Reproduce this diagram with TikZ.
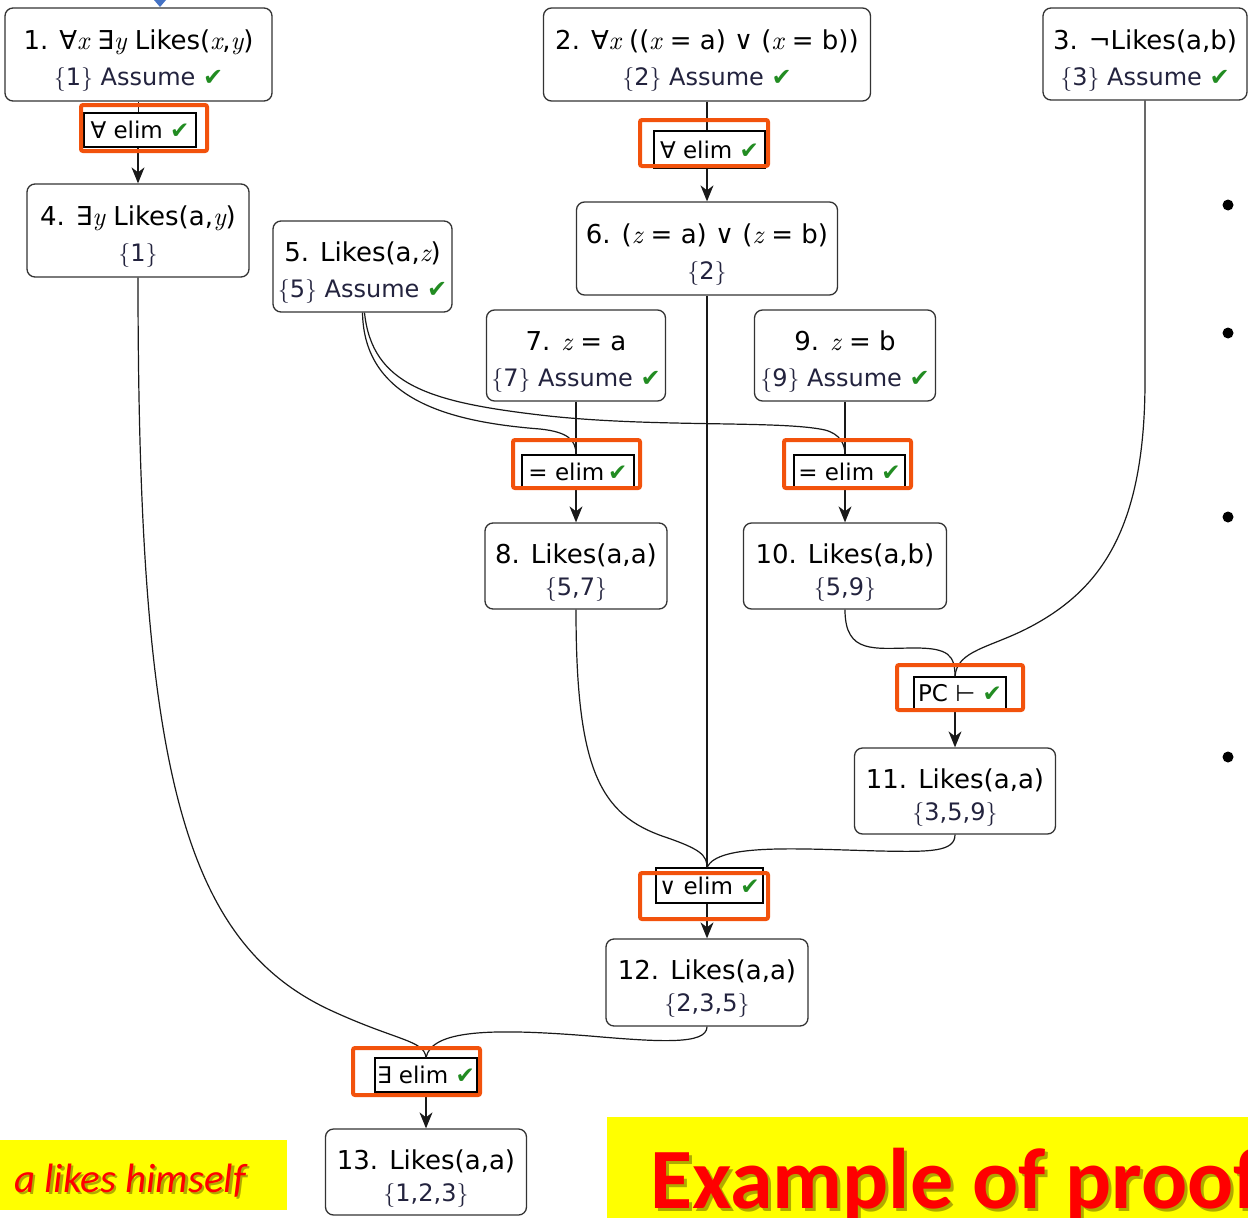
\documentclass[tikz,border=0pt]{standalone}
\usepackage{fontspec}
\setmainfont{DejaVu Sans}
\newfontfamily\lmr{lmroman10}[Extension=.otf, UprightFont=*-regular, ItalicFont=*-italic]
\newfontfamily\calib{Carlito}
\usetikzlibrary{arrows.meta}

\definecolor{okgreen}{RGB}{34,140,34}
\definecolor{rulered}{RGB}{242,82,12}
\definecolor{depblue}{RGB}{35,35,62}
\definecolor{banner}{RGB}{255,255,0}
\definecolor{bannertext}{RGB}{255,0,0}
\definecolor{bannershade}{RGB}{110,100,0}
\definecolor{tipblue}{RGB}{68,114,196}

% variables in serif italic, dependency sets, green tick
\newcommand\pvar[1]{{\lmr\itshape #1}}
\newcommand\deps[1]{{\lmr\{}#1{\lmr\}}}
\newcommand\chk{{\color{okgreen}✔}}
% two-line statement: formula, then dependencies / justification
\newcommand\stm[2]{\rule{0pt}{32pt}#1\\{\fontsize{24}{36}\selectfont\color{depblue}#2}}
\newcommand\stmc[2]{\rule{0pt}{32pt}#1\\[-4pt]{\fontsize{24}{36}\selectfont\color{depblue}#2}}

\tikzset{
  stmt/.style={draw=black!80, line width=1.3pt, rounded corners=8pt, fill=white,
    align=center, inner sep=0pt, font=\fontsize{26}{36}\selectfont},
  rulebox/.style={draw=black, line width=1.1pt, fill=white, inner sep=0pt,
    font=\fontsize{23}{26}\selectfont},
  frame/.style={draw=rulered, line width=4pt, rounded corners=2pt, inner sep=0pt},
  link/.style={draw=black!90, line width=1.2pt},
  arr/.style={link, -{Stealth[length=16pt,width=13pt,inset=5pt]}},
}

\begin{document}
\begin{tikzpicture}[x=1pt,y=-1pt]
\useasboundingbox (0,0) rectangle (1248,1218);

% small arrow tip entering from above
\fill[tipblue] (154,0) -- (166,0) -- (160,7) -- cycle;

% proof lines
\node[stmt, minimum width=267pt, minimum height=93pt] (n1) at (138.5,54.5)
  {\stm{1. ∀\pvar{x} ∃\pvar{y} Likes(\pvar{x},\pvar{y})}{\deps{1} Assume \chk}};
\node[stmt, minimum width=327pt, minimum height=93pt] (n2) at (707,54.5)
  {\stm{2. ∀\pvar{x} ((\pvar{x} = a) ∨ (\pvar{x} = b))}{\deps{2} Assume \chk}};
\node[stmt, minimum width=204pt, minimum height=92pt] (n3) at (1145,54)
  {\stm{3. ¬Likes(a,b)}{\deps{3} Assume \chk}};
\node[stmt, minimum width=222pt, minimum height=93pt] (n4) at (138,230.5)
  {\stm{4. ∃\pvar{y} Likes(a,\pvar{y})}{\deps{1}}};
\node[stmt, minimum width=179pt, minimum height=91pt] (n5) at (362.5,266.5)
  {\stm{5. Likes(a,\pvar{z})}{\deps{5} Assume \chk}};
\node[stmt, minimum width=261pt, minimum height=93pt] (n6) at (707,248.5)
  {\stm{6. (\pvar{z} = a) ∨ (\pvar{z} = b)}{\deps{2}}};
\node[stmt, minimum width=179pt, minimum height=91pt] (n7) at (576,355.5)
  {\stm{7. \pvar{z} = a}{\deps{7} Assume \chk}};
\node[stmt, minimum width=181pt, minimum height=91pt] (n9) at (845,355.5)
  {\stm{9. \pvar{z} = b}{\deps{9} Assume \chk}};
\node[stmt, minimum width=182pt, minimum height=86pt] (n8) at (576,566)
  {\stmc{8. Likes(a,a)}{\deps{5,7}}};
\node[stmt, minimum width=203pt, minimum height=86pt] (n10) at (845,566)
  {\stmc{10. Likes(a,b)}{\deps{5,9}}};
\node[stmt, minimum width=201pt, minimum height=86pt] (n11) at (955,791)
  {\stmc{11. Likes(a,a)}{\deps{3,5,9}}};
\node[stmt, minimum width=202pt, minimum height=87pt] (n12) at (707,982.5)
  {\stmc{12. Likes(a,a)}{\deps{2,3,5}}};
\node[stmt, minimum width=201pt, minimum height=86pt] (n13) at (426,1172)
  {\stmc{13. Likes(a,a)}{\deps{1,2,3}}};

% inference rules
\node[rulebox, minimum width=112pt, minimum height=34pt] (r1) at (140,130) {∀ elim \chk};
\node[rulebox, minimum width=111pt, minimum height=37pt] (r2) at (709.5,149.5) {∀ elim \chk};
\node[rulebox, minimum width=112pt, minimum height=33pt] (r3) at (578,471.5) {= elim\,\chk};
\node[rulebox, minimum width=111pt, minimum height=33pt] (r4) at (849.5,471.5) {= elim \chk};
\node[rulebox, minimum width=92pt, minimum height=33pt] (r5) at (960,693.5) {PC ⊢ \chk};
\node[rulebox, minimum width=107pt, minimum height=35pt] (r6) at (709.5,885.5) {∨ elim \chk};
\node[rulebox, minimum width=102pt, minimum height=34pt] (r7) at (426,1075) {∃ elim \chk};

% premises into rules
\draw[link] (n1.south) -- (n1.south |- r1.north);
\draw[link] (n2.south) -- (n2.south |- r2.north);
\draw[link] (n7.south) -- (n7.south |- r3.north);
\draw[link] (n9.south) -- (n9.south |- r4.north);
\draw[link] (n5.south) .. controls (364,400) and (450,422) .. (540,429)
  .. controls (568,432) and (576,440) .. (r3.north -| n8.north);
\draw[link] ([xshift=2pt]n5.south) .. controls (372,385) and (430,402) .. (540,415)
  .. controls (650,428) and (780,420) .. (825,430)
  .. controls (840,434) and (845,444) .. (r4.north -| n10.north);
\draw[link] (n10.south) .. controls (845,655) and (875,648) .. (915,648)
  .. controls (948,648) and (955,655) .. (r5.north -| n11.north);
\draw[link] (n3.south) -- ++(0,280) .. controls (1145,530) and (1100,590) .. (1030,627)
  .. controls (990,648) and (957,650) .. (r5.north -| n11.north);
\draw[link] (n8.south) .. controls (576,770) and (600,815) .. (665,837)
  .. controls (700,849) and (707,855) .. (r6.north -| n12.north);
\draw[link] (n6.south) -- (n6.south |- r6.north);
\draw[link] (n11.south) .. controls (955,852) and (930,852) .. (880,851)
  .. controls (800,849) and (718,843) .. (r6.north -| n12.north);
\draw[link] (n4.south) .. controls (138,760) and (180,940) .. (330,1010)
  .. controls (397,1041) and (424,1040) .. (r7.north -| n13.north);
\draw[link] (n12.south) .. controls (707,1045) and (660,1042) .. (590,1036)
  .. controls (490,1028) and (432,1030) .. (r7.north -| n13.north);

% conclusions
\draw[arr] (r1.south -| n4.north) -- (n4.north);
\draw[arr] (r2.south -| n6.north) -- (n6.north);
\draw[arr] (r3.south -| n8.north) -- (n8.north);
\draw[arr] (r4.south -| n10.north) -- (n10.north);
\draw[arr] (r5.south -| n11.north) -- (n11.north);
\draw[arr] (r6.south -| n12.north) -- (n12.north);
\draw[arr] (r7.south -| n13.north) -- (n13.north);

% highlight frames around the rules
\node[frame, minimum width=126pt, minimum height=46pt] (f1) at (144,128) {};
\node[frame, minimum width=128pt, minimum height=46pt] (f2) at (704,143) {};
\node[frame, minimum width=127pt, minimum height=48pt] (f3) at (576.5,464) {};
\node[frame, minimum width=127pt, minimum height=48pt] (f4) at (847.5,464) {};
\node[frame, minimum width=126pt, minimum height=45pt] (f5) at (960,687.5) {};
\node[frame, minimum width=128pt, minimum height=46pt] (f6) at (704,896) {};
\node[frame, minimum width=127pt, minimum height=47pt] (f7) at (416.5,1071.5) {};

% bullet column
\foreach \by in {205,333,517,757} \fill (1228,\by) circle (5.5pt);

% captions
\fill[banner] (0,1140) rectangle (287,1210);
\node[anchor=base west, inner sep=0pt, text=bannershade, opacity=0.55,
  font=\calib\itshape\fontsize{41}{41}\selectfont] (tagshade) at (16.5,1194.5) {a likes himself};
\node[anchor=base west, inner sep=0pt, text=bannertext,
  font=\calib\itshape\fontsize{41}{41}\selectfont] (tag) at (14,1192) {a likes himself};

\fill[banner] (607,1117) rectangle (1260,1230);
\node[anchor=base west, inner sep=0pt, text=bannershade, opacity=0.55,
  font=\calib\bfseries\fontsize{86}{86}\selectfont] (titleshade) at (653,1211) {Example of proof};
\node[anchor=base west, inner sep=0pt, text=bannertext,
  font=\calib\bfseries\fontsize{86}{86}\selectfont] (title) at (650,1208) {Example of proof};
\end{tikzpicture}
\end{document}
